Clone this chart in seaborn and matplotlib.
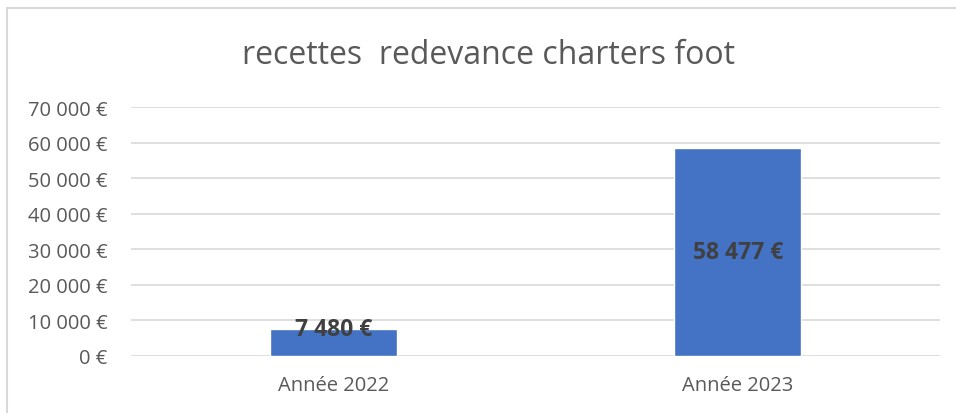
import numpy as np
import pandas as pd
import seaborn as sns
import matplotlib.pyplot as plt
from matplotlib.lines import Line2D

# data
annees = ['Année 2022', 'Année 2023']
recettes = [7480, 58477]
yticks = [0, 10000, 20000, 30000, 40000, 50000, 60000, 70000]

df = pd.DataFrame({'annee': annees, 'recettes': recettes})


def euro(v):
    return '{:,.0f} €'.format(v).replace(',', ' ')


sns.set_style('white')
plt.rcParams['font.family'] = ['Open Sans', 'DejaVu Sans']

fig = plt.figure(figsize=(9.56, 4.14), dpi=100)
ax = fig.add_axes([131 / 956, 1 - 357 / 414, 809 / 956, 249 / 414])

sns.barplot(data=df, x='annee', y='recettes', color='#4472C4',
            saturation=1, width=0.314, ax=ax, zorder=3)

ax.set_ylim(0, 70000)
ax.set_yticks(yticks)
ax.set_yticklabels([euro(v) for v in yticks])
ax.yaxis.grid(True, color='#d9d9d9', linewidth=1.2, zorder=0)
ax.set_xlabel('')
ax.set_ylabel('')
sns.despine(ax=ax, left=True, top=True, right=True, bottom=True)
ax.tick_params(axis='y', length=0, pad=17, labelsize=14.5, labelcolor='#595959')
ax.tick_params(axis='x', length=0, pad=14, labelsize=14.5, labelcolor='#595959')

# value labels, centred in the bar (at top for the short one)
for i, v in enumerate(recettes):
    y = v / 2 if v > 20000 else v
    ax.text(i, y, euro(v), ha='center', va='center', fontsize=16.5,
            fontweight='bold', color='#404040', zorder=4)

fig.text(488 / 956, 1 - 55 / 414, 'recettes  redevance charters foot',
         ha='center', va='center', fontsize=23, color='#595959')

# chart frame (left and top edges visible)
fig.add_artist(Line2D([7 / 956, 7 / 956], [0, 1 - 9 / 414],
                      transform=fig.transFigure, color='#d9d9d9', lw=1.5))
fig.add_artist(Line2D([7 / 956, 1], [1 - 9 / 414, 1 - 9 / 414],
                      transform=fig.transFigure, color='#d9d9d9', lw=1.5))

fig.savefig('out.png', dpi=100)
